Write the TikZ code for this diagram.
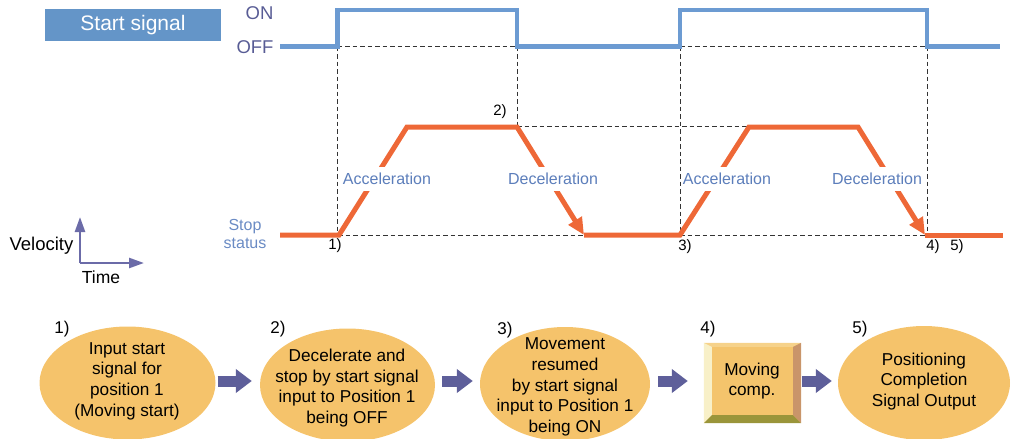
\documentclass[tikz,border=0pt]{standalone}
\usepackage{fontspec}
\setmainfont{Liberation Sans}
\usetikzlibrary{arrows.meta,shapes.geometric,calc}
\definecolor{sigblue}{HTML}{6C9BD2}
\definecolor{boxblue}{HTML}{6495C8}
\definecolor{velor}{HTML}{EE6837}
\definecolor{lblblue}{HTML}{5C7EBB}
\definecolor{stopblue}{HTML}{6A8BC4}
\definecolor{onoff}{HTML}{585C95}
\definecolor{ellfill}{HTML}{F5C36B}
\definecolor{barrow}{HTML}{5E5F9A}
\definecolor{axcol}{HTML}{6B6BA8}
\definecolor{bface}{HTML}{F4C46C}
\definecolor{btop}{HTML}{F6D28A}
\definecolor{bleft}{HTML}{F8F0C8}
\definecolor{bright}{HTML}{C9956A}
\definecolor{bbottom}{HTML}{9A953A}
\definecolor{dashcol}{HTML}{333333}
\begin{document}
\begin{tikzpicture}[x=1pt,y=-1pt,
  sigline/.style={draw=sigblue,line width=4.5pt,line join=miter},
  velline/.style={draw=velor,line width=5pt,line join=miter},
  velarrow/.style={-{Triangle[length=17pt,width=15pt]}},
  dashline/.style={draw=dashcol,line width=1pt,dash pattern=on 4.5pt off 3pt},
  phase/.style={fill=white,inner xsep=0.5pt,inner ysep=6pt,text=lblblue,font=\fontsize{16}{18}\selectfont},
  numlbl/.style={inner sep=0pt,font=\fontsize{15}{16}\selectfont},
  stepnum/.style={inner sep=0pt,font=\fontsize{17}{18}\selectfont},
  levellbl/.style={inner sep=0pt,text=onoff,font=\fontsize{18.5}{20}\selectfont},
  ellnode/.style={ellipse,fill=ellfill,inner sep=0pt},
  elltext/.style={align=center,inner sep=0pt,font=\fontsize{17.2}{20.6}\selectfont},
  blockarrow/.style={draw=barrow,line width=11pt,-{Triangle[length=16pt,width=23pt]}},
  axarrow/.style={draw=axcol,line width=2.5pt,-{Triangle[length=15pt,width=10pt]}}
]
\useasboundingbox (0,0) rectangle (1013,439);

% ---- Start signal ----
\node[fill=boxblue,minimum width=176pt,minimum height=32pt,inner sep=0pt,text=white,
  font=\fontsize{21}{22}\selectfont] (ssig) at (133,25) {Start signal};
\node[levellbl] (on) at (259.5,13.5) {ON};
\node[levellbl] (off) at (255,47) {OFF};

% dashed guides
\draw[dashline] (337.5,46.5) -- (517,46.5);
\draw[dashline] (680,46.5) -- (927,46.5);
\draw[dashline] (337.5,46.5) -- (337.5,235);
\draw[dashline] (517,46.5) -- (517,126.5);
\draw[dashline] (517,126.5) -- (749,126.5);
\draw[dashline] (680,46.5) -- (680,235);
\draw[dashline] (927,46.5) -- (927,235);
\draw[dashline] (338,235) -- (585,235);
\draw[dashline] (680,235) -- (927,235);

% signal waveform
\draw[sigline] (280,46.5) -- (337.5,46.5) -- (337.5,10) -- (517,10) -- (517,46.5)
  -- (680,46.5) -- (680,10) -- (927,10) -- (927,46.5) -- (1000,46.5);

% velocity profile
\draw[velline,velarrow] (280,235) -- (339,235) -- (407,127) -- (517,127) -- (584,235);
\draw[velline,velarrow] (584,235) -- (680,235) -- (749,127) -- (858,127) -- (925,235);
\draw[velline] (925,235) -- (1003,235);

% phase labels
\node[phase] (acc1) at (387,179) {Acceleration};
\node[phase] (dec1) at (553,179) {Deceleration};
\node[phase] (acc2) at (727,179) {Acceleration};
\node[phase] (dec2) at (877,179) {Deceleration};

% stop status
\node[align=center,inner sep=0pt,text=stopblue,font=\fontsize{16}{18}\selectfont] (stop) at (245,234) {Stop\\status};

% timing numbers
\node[numlbl] (n1) at (335,246) {1)};
\node[numlbl] (n2) at (500,112) {2)};
\node[numlbl] (n3) at (685,247) {3)};
\node[numlbl] (n4) at (933,247) {4)};
\node[numlbl] (n5) at (957,247) {5)};

% axes legend
\coordinate (ax0) at (80,263);
\coordinate (axv) at (80,217);
\coordinate (axh) at (144,263);
\draw[axarrow] (ax0) -- (axv);
\draw[axarrow] (ax0) -- (axh);
\node[inner sep=0pt,font=\fontsize{18.5}{20}\selectfont] (vel) at (41.5,246) {Velocity};
\node[inner sep=0pt,font=\fontsize{17.5}{20}\selectfont] (time) at (101,277) {Time};

% ---- bottom flow ----
\node[ellnode,minimum width=176pt,minimum height=113pt] (e1) at (127.5,383) {};
\node[ellnode,minimum width=175pt,minimum height=113pt] (e2) at (347.5,385) {};
\node[ellnode,minimum width=170pt,minimum height=114pt] (e3) at (565,384) {};
\node[ellnode,minimum width=172pt,minimum height=114pt] (e5) at (924,383) {};

% box 4 with bevel
\node[fill=bface,minimum width=97pt,minimum height=80pt,inner sep=0pt] (b4) at (752.5,383) {};
\fill[btop] (b4.north west) -- (b4.north east) -- ($(b4.north east)+(-8,4)$) -- ($(b4.north west)+(8,4)$) -- cycle;
\fill[bleft] (b4.north west) -- ($(b4.north west)+(8,4)$) -- ($(b4.south west)+(8,-8)$) -- (b4.south west) -- cycle;
\fill[bbottom] (b4.south west) -- (b4.south east) -- ($(b4.south east)+(-8,-8)$) -- ($(b4.south west)+(8,-8)$) -- cycle;
\fill[bright] (b4.north east) -- (b4.south east) -- ($(b4.south east)+(-8,-8)$) -- ($(b4.north east)+(-8,4)$) -- cycle;

\node[elltext] (t1) at (127,381) {Input start\\signal for\\position 1\\(Moving start)};
\node[elltext] (t2) at (347,388) {Decelerate and\\stop by start signal\\input to Position 1\\being OFF};
\node[elltext] (t3) at (565,387) {Movement\\resumed\\by start signal\\input to Position 1\\being ON};
\node[elltext] (t4) at (752,381) {Moving\\comp.};
\node[elltext] (t5) at (924,381.5) {Positioning\\Completion\\Signal Output};

\node[stepnum] (s1) at (62,329) {1)};
\node[stepnum] (s2) at (278,329) {2)};
\node[stepnum] (s3) at (505,330) {3)};
\node[stepnum] (s4) at (708,329) {4)};
\node[stepnum] (s5) at (860,329) {5)};

% block arrows
\coordinate (ay) at (0,381);
\draw[blockarrow,shorten <=2pt,shorten >=8pt] (e1.east |- ay) -- (e2.west |- ay);
\draw[blockarrow,shorten <=7pt,shorten >=7pt] (e2.east |- ay) -- (e3.west |- ay);
\draw[blockarrow,shorten <=8pt,shorten >=16pt] (e3.east |- ay) -- (b4.west |- ay);
\draw[blockarrow,shorten <=1pt,shorten >=6pt] (b4.east |- ay) -- (e5.west |- ay);
\end{tikzpicture}
\end{document}
